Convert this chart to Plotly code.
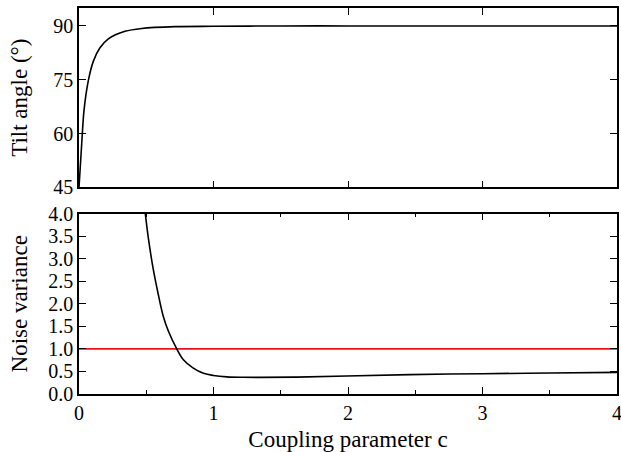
import plotly.graph_objects as go

# Top panel: tilt angle vs coupling parameter
tilt_c = [0, 0.02, 0.037, 0.069, 0.107, 0.156, 0.218, 0.342, 0.466, 0.714, 1.0, 1.5, 2.0, 3.0, 4.0]
tilt_angle = [45, 57.1, 66.4, 74.7, 80.2, 83.9, 86.4, 88.5, 89.3, 89.8, 89.9, 90.0, 90.0, 90.0, 90.0]

# Bottom panel: noise variance vs coupling parameter
noise_c = [0.493, 0.516, 0.55, 0.59, 0.627, 0.665, 0.727, 0.776, 0.85, 0.925, 1.0, 1.1, 1.22, 1.35, 1.62, 1.99, 2.46, 3.0, 3.5, 4.0]
noise_var = [4.0, 3.45, 2.8, 2.2, 1.72, 1.39, 1.0, 0.76, 0.575, 0.46, 0.41, 0.38, 0.37, 0.368, 0.375, 0.40, 0.43, 0.45, 0.465, 0.48]

# Reference level
ref_c = [0, 4]
ref_level = [1.0, 1.0]

FONT = "Liberation Serif"

fig = go.Figure()
fig.add_trace(go.Scatter(x=tilt_c, y=tilt_angle, mode="lines", line=dict(color="black", width=1.6, shape="spline", smoothing=0.8),
                         xaxis="x", yaxis="y", showlegend=False, hoverinfo="skip"))
fig.add_trace(go.Scatter(x=ref_c, y=ref_level, mode="lines", line=dict(color="#e8141b", width=1.6),
                         xaxis="x2", yaxis="y2", showlegend=False, hoverinfo="skip"))
fig.add_trace(go.Scatter(x=noise_c, y=noise_var, mode="lines", line=dict(color="black", width=1.6, shape="spline", smoothing=1.0),
                         xaxis="x2", yaxis="y2", showlegend=False, hoverinfo="skip"))

axis_common = dict(showline=True, linecolor="black", linewidth=1.5, mirror="allticks",
                   ticks="inside", tickcolor="black", tickwidth=1.2, ticklen=7,
                   showgrid=False, zeroline=False, automargin=False, ticklabeloverflow="allow",
                   tickfont=dict(family=FONT, size=20, color="black"))

fig.update_layout(
    width=621, height=452,
    font=dict(family=FONT, color="black"),
    margin=dict(l=79, r=4, t=7.5, b=57.7, autoexpand=False),
    paper_bgcolor="white", plot_bgcolor="white",
    xaxis=dict(axis_common, domain=[0, 1], range=[0, 4], dtick=1, tick0=0, showticklabels=False,
               anchor="y"),
    yaxis=dict(axis_common, domain=[0.5352, 1], range=[45, 95], tickvals=[45, 60, 75, 90],
               anchor="x",
               title=dict(text="Tilt angle (°)", font=dict(family=FONT, size=23, color="black"), standoff=19)),
    xaxis2=dict(axis_common, domain=[0, 1], range=[0, 4], dtick=1, tick0=0, anchor="y2",
                minor=dict(ticks="inside", dtick=0.5, tick0=0, ticklen=4, tickcolor="black", tickwidth=1.2),
                title=dict(text="Coupling parameter c", font=dict(family=FONT, size=23, color="black"), standoff=10)),
    yaxis2=dict(axis_common, domain=[0, 0.4674], range=[0, 4], dtick=0.5, tick0=0, tickformat=".1f",
                anchor="x2",
                title=dict(text="Noise variance", font=dict(family=FONT, size=23, color="black"), standoff=14)),
)

fig.write_html("out.html", config={"displayModeBar": False},
               post_script="document.body.style.margin='0px';")
